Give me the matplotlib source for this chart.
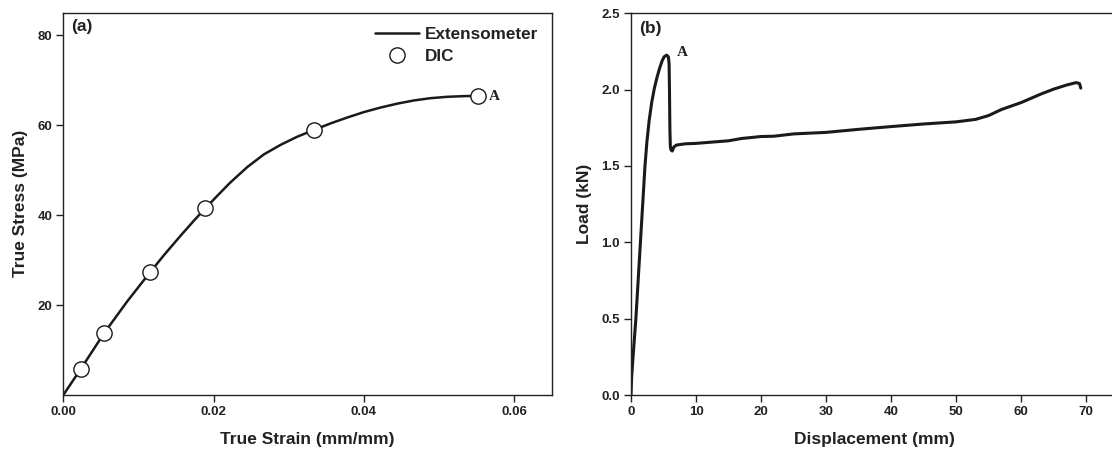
import matplotlib
matplotlib.use("Agg")
import matplotlib.pyplot as plt

# ---- data (a) ----
ext_strain = [0.0, 0.00233, 0.00543, 0.0085, 0.0116, 0.0135, 0.0156, 0.0174, 0.0189,
              0.0205, 0.0222, 0.0245, 0.0267, 0.0289, 0.0311, 0.0333, 0.0356,
              0.0378, 0.0400, 0.0422, 0.0445, 0.0467, 0.0489, 0.0511, 0.0533, 0.0552]
ext_stress = [0.0, 5.8, 13.75, 20.8, 27.4, 31.3, 35.4, 38.8, 41.5,
              44.3, 47.2, 50.7, 53.5, 55.6, 57.4, 58.9, 60.4,
              61.7, 62.9, 63.9, 64.8, 65.5, 66.0, 66.3, 66.45, 66.5]
dic_strain = [0.00233, 0.00543, 0.0116, 0.0189, 0.0333, 0.0552]
dic_stress = [5.8, 13.75, 27.4, 41.5, 58.9, 66.5]

# ---- data (b) ----
disp = [0.0, 0.1, 0.4, 0.75, 1.1, 1.45, 1.8, 2.15, 2.45, 2.8, 3.2, 3.6, 4.0, 4.4,
        4.8, 5.1, 5.49, 5.75,
        5.86, 5.92, 5.98, 6.05, 6.15, 6.35, 6.6, 7.0, 8.3, 10, 15, 17, 20, 22, 25, 30,
        35, 40, 45, 50, 53, 55, 57, 60, 63, 65, 67, 68.5, 69.0, 69.2]
load = [0.0, 0.12, 0.3, 0.5, 0.75, 1.0, 1.25, 1.5, 1.66, 1.8, 1.92, 2.01, 2.08, 2.14,
        2.19, 2.215, 2.226, 2.215,
        2.17, 2.0, 1.75, 1.63, 1.605, 1.598, 1.625, 1.637, 1.645, 1.648, 1.665, 1.68, 1.693, 1.695, 1.71, 1.72,
        1.74, 1.758, 1.775, 1.789, 1.805, 1.83, 1.87, 1.915, 1.97, 2.003, 2.03, 2.046, 2.04, 2.01]

plt.rcParams['font.family'] = ['Liberation Sans', 'DejaVu Sans']
plt.rcParams['font.weight'] = 'bold'

fig = plt.figure(figsize=(11.12, 4.54), dpi=100)

W, H = 1112, 454
ax1 = fig.add_axes([63.3 / W, 1 - 395 / H, (551.7 - 63.3) / W, (395 - 12.7) / H])
ax2 = fig.add_axes([631 / W, 1 - 395 / H, 487.5 / W, (395 - 13.3) / H])

TXT = '#222222'
LBL = 12.5
TCK = 9.5

for ax in (ax1, ax2):
    for s in ax.spines.values():
        s.set_linewidth(1.0)
        s.set_color(TXT)
    ax.tick_params(direction='out', length=5, width=1, labelsize=TCK, pad=3, colors=TXT)

# (a)
ax1.plot(ext_strain, ext_stress, color='#1a1a1a', lw=1.8, label='Extensometer',
         solid_joinstyle='round', solid_capstyle='round')
ax1.plot(dic_strain, dic_stress, ls='none', marker='o', ms=11, mfc='white',
         mec='#1a1a1a', mew=1.0, label='DIC')
ax1.set_xlim(0, 0.065)
ax1.set_ylim(0, 85)
ax1.set_xticks([0.0, 0.02, 0.04, 0.06])
ax1.set_xticklabels(['0.00', '0.02', '0.04', '0.06'], fontweight='bold')
ax1.set_yticks([20, 40, 60, 80])
ax1.set_yticklabels(['20', '40', '60', '80'], fontweight='bold')
ax1.set_xlabel('True Strain (mm/mm)', fontsize=LBL, fontweight='bold', labelpad=10, color=TXT)
ax1.set_ylabel('True Stress (MPa)', fontsize=LBL, fontweight='bold', labelpad=7, color=TXT)
ax1.text(0.015, 0.963, '(a)', transform=ax1.transAxes, fontsize=LBL, fontweight='bold',
         va='center', ha='left', color=TXT)
ax1.text(0.0567, 66.4, 'A', fontsize=11, fontweight='bold', family='Liberation Serif',
         va='center', ha='left', color=TXT)
leg = ax1.legend(loc='upper right', bbox_to_anchor=(1.003, 1.004), frameon=False,
                 prop={'size': 12.3, 'weight': 'bold'}, handlelength=2.6,
                 handletextpad=0.3, labelspacing=0.45, borderaxespad=0.5)
for t in leg.get_texts():
    t.set_color(TXT)

# (b)
ax2.plot(disp, load, color='#1a1a1a', lw=2.2, solid_joinstyle='round', solid_capstyle='round')
ax2.set_xlim(0, 75)
ax2.set_ylim(0, 2.5)
ax2.set_xticks(range(0, 71, 10))
ax2.set_xticklabels([str(v) for v in range(0, 71, 10)], fontweight='bold')
ax2.set_yticks([0.0, 0.5, 1.0, 1.5, 2.0, 2.5])
ax2.set_yticklabels(['0.0', '0.5', '1.0', '1.5', '2.0', '2.5'], fontweight='bold')
ax2.set_xlabel('Displacement (mm)', fontsize=LBL, fontweight='bold', labelpad=10, color=TXT)
ax2.set_ylabel('Load (kN)', fontsize=LBL, fontweight='bold', labelpad=7, color=TXT)
ax2.text(0.017, 0.96, '(b)', transform=ax2.transAxes, fontsize=LBL, fontweight='bold',
         va='center', ha='left', color=TXT)
ax2.text(7.0, 2.24, 'A', fontsize=11, fontweight='bold', family='Liberation Serif',
         va='center', ha='left', color=TXT)

fig.savefig('out.png', dpi=100)
